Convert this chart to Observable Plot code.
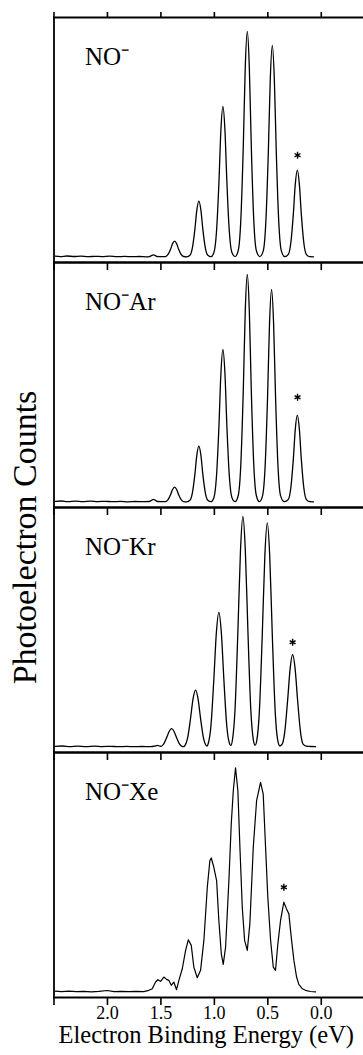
<!DOCTYPE html>
<html><head><meta charset="utf-8">
<script src="https://cdn.jsdelivr.net/npm/d3@7"></script>
<script src="https://cdn.jsdelivr.net/npm/@observablehq/plot@0.6"></script>
<style>html,body{margin:0;padding:0;background:#fff}</style>
</head><body><div id="chart"></div>
<script>
const panels = ["NO⁻", "NO⁻Ar", "NO⁻Kr", "NO⁻Xe"];
const tickValues = [2.5, 2.0, 1.5, 1.0, 0.5, 0.0];
const tickLabels = [2.0, 1.5, 1.0, 0.5, 0.0];
const xLabel = "Electron Binding Energy (eV)";
const yLabel = "Photoelectron Counts";

// [binding energy (eV), counts (arb. units)]
const specNO = [[2.49,0.8],[2.44,0.4],[2.38,1.0],[2.31,0.5],[2.25,0.9],[2.18,0.3],[2.12,0.7],[2.05,0.4],[1.98,0.8],[1.91,0.3],[1.84,0.6],[1.77,0.3],[1.70,0.5],[1.64,0.2],
[1.61,0.4],[1.59,1.3],[1.569,2.2],[1.55,1.3],[1.53,0.4],[1.47,0.3],
[1.456,0.5],[1.433,2.6],[1.409,8],[1.391,13.4],[1.372,16],[1.353,13.4],[1.335,8],[1.311,2.6],[1.288,0.5],[1.258,0.2],
[1.229,1.7],[1.206,9],[1.182,28],[1.164,47],[1.145,56],[1.126,47],[1.108,28],[1.084,9],[1.061,1.7],[1.032,0.3],
[1.004,4.5],[0.981,24],[0.957,75.5],[0.939,127],[0.920,151],[0.901,127],[0.883,75.5],[0.859,24],[0.836,4.5],[0.806,0.4],
[0.776,6.8],[0.753,36],[0.729,113],[0.711,190],[0.692,226],[0.673,190],[0.655,113],[0.631,36],[0.608,6.8],[0.575,0.4],
[0.542,6.4],[0.519,34],[0.495,106],[0.477,178],[0.458,212],[0.439,178],[0.421,106],[0.397,34],[0.374,6.4],[0.341,0.3],
[0.308,2.6],[0.285,14],[0.261,43.5],[0.243,73],[0.224,87],[0.205,73],[0.187,43.5],[0.163,14],[0.140,2.6],[0.11,0.4],[0.072,0.2]];

const specAr = [[2.49,0.6],[2.43,1.0],[2.37,0.4],[2.30,0.8],[2.23,0.3],[2.16,0.9],[2.09,0.4],[2.02,0.7],[1.95,0.3],[1.88,0.6],[1.81,0.2],[1.74,0.5],[1.67,0.3],
[1.61,0.5],[1.59,1.6],[1.569,2.7],[1.55,1.6],[1.53,0.5],[1.47,0.3],
[1.456,0.45],[1.433,2.4],[1.409,7.5],[1.391,12.6],[1.372,15],[1.353,12.6],[1.335,7.5],[1.311,2.4],[1.288,0.45],[1.258,0.2],
[1.229,1.7],[1.206,9],[1.182,28],[1.164,47],[1.145,56],[1.126,47],[1.108,28],[1.084,9],[1.061,1.7],[1.032,0.3],
[1.004,4.6],[0.981,24.5],[0.957,76.5],[0.939,128.5],[0.920,153],[0.901,128.5],[0.883,76.5],[0.859,24.5],[0.836,4.6],[0.806,0.4],
[0.776,6.8],[0.753,36.5],[0.729,114],[0.711,191.5],[0.692,228],[0.673,191.5],[0.655,114],[0.631,36.5],[0.608,6.8],[0.579,0.4],
[0.549,6.4],[0.526,34],[0.502,106.5],[0.484,179],[0.465,213],[0.446,179],[0.428,106.5],[0.404,34],[0.381,6.4],[0.345,0.3],
[0.308,2.6],[0.285,14],[0.261,43.5],[0.243,73],[0.224,87],[0.205,73],[0.187,43.5],[0.163,14],[0.140,2.6],[0.11,0.4],[0.072,0.2]];

const specKr = [[2.49,0.6],[2.42,1.0],[2.35,0.4],[2.28,0.8],[2.20,0.3],[2.12,0.9],[2.05,0.4],[1.97,0.7],[1.90,0.3],[1.82,0.6],[1.75,0.3],[1.68,0.5],[1.60,0.3],
[1.56,0.8],[1.534,1.7],[1.51,0.8],
[1.498,0.6],[1.475,2.8],[1.447,9.2],[1.423,15.6],[1.400,18.4],[1.377,15.6],[1.353,9.2],[1.325,2.8],[1.302,0.6],[1.288,0.4],
[1.274,1.7],[1.251,8.6],[1.223,28.5],[1.199,48.5],[1.176,57],[1.153,48.5],[1.129,28.5],[1.101,8.6],[1.078,1.7],[1.067,1.0],
[1.056,4],[1.033,20],[1.005,67.5],[0.981,115],[0.958,135],[0.935,115],[0.911,67.5],[0.883,20],[0.860,4],[0.846,1.5],
[0.831,7],[0.808,35],[0.780,115.5],[0.756,196],[0.733,231],[0.710,196],[0.686,115.5],[0.658,35],[0.635,7],[0.619,1.8],
[0.603,6.7],[0.580,33.7],[0.552,112],[0.528,191],[0.505,224.5],[0.482,191],[0.458,112],[0.430,33.7],[0.407,6.7],[0.387,1.0],
[0.366,2.8],[0.343,14],[0.315,46.4],[0.291,78.8],[0.268,92.7],[0.245,78.8],[0.221,46.4],[0.193,14],[0.170,2.8],[0.14,0.8],[0.10,0.5],[0.053,0.3]];

const specXe = [[2.49,0.8],[2.43,0.3],[2.36,0.9],[2.29,0.4],[2.22,0.7],[2.15,0.2],[2.08,0.6],[2.00,1.5],[1.94,0.4],[1.87,0.7],[1.80,0.3],[1.73,0.6],[1.66,0.4],
[1.613,1.7],[1.581,3.3],[1.550,10],[1.529,12.3],[1.503,10.7],[1.472,15],[1.447,12.7],[1.426,11.7],[1.403,6.7],[1.379,10],[1.354,2.3],[1.332,11.7],
[1.300,23.3],[1.269,41.7],[1.244,52.3],[1.216,46.7],[1.192,25],[1.160,14.3],[1.129,21.7],[1.098,51.7],[1.066,105],[1.042,131.7],[1.029,134.3],
[1.005,125],[0.979,111.7],[0.958,71.7],[0.935,38.3],[0.917,27.7],[0.895,45],[0.864,111.7],[0.842,168.3],[0.823,201.7],[0.802,224.7],
[0.780,201.7],[0.761,145],[0.739,85],[0.717,51.7],[0.692,41.7],[0.668,68.3],[0.636,145],[0.605,191.7],[0.568,210],[0.543,198.3],
[0.521,145],[0.500,95],[0.474,51.7],[0.449,25],[0.428,21.7],[0.406,48.3],[0.381,71.7],[0.350,90],[0.325,83.3],[0.303,78.3],
[0.281,55],[0.256,31.7],[0.231,15],[0.210,7.7],[0.178,3.3],[0.147,1.7],[0.10,0.5],[0.053,0.2]];

// asterisk markers: [panel index, eV, counts]
const stars = [[0,0.222,102],[1,0.222,105],[2,0.268,105],[3,0.350,105]];

const rows = [];
[specNO, specAr, specKr, specXe].forEach((s, i) => s.forEach(([e, c]) => rows.push({panel: panels[i], e, c})));
const starRows = stars.map(([i, e, c]) => ({panel: panels[i], e, c}));

const FONT = "'Liberation Serif', 'Times New Roman', serif";

const chart = Plot.plot({
  width: 363,
  height: 1055,
  marginLeft: 53.5,
  marginRight: 0,
  marginTop: 16,
  marginBottom: 57,
  style: {fontFamily: FONT, background: "#fff", color: "#000"},
  x: {domain: [2.5, -0.395]},
  y: {domain: [-5.5, 240], axis: null},
  fy: {domain: panels, padding: 0, axis: null},
  marks: [
    Plot.line(rows.filter(d => d.panel !== "NO⁻Xe"), {x: "e", y: "c", fy: "panel", curve: "monotone-x", stroke: "#000", strokeWidth: 1.3}),
    Plot.line(rows.filter(d => d.panel === "NO⁻Xe"), {x: "e", y: "c", fy: "panel", curve: "linear", stroke: "#000", strokeWidth: 1.2}),
    Plot.dot(starRows, {x: "e", y: "c", fy: "panel", symbol: "asterisk", r: 3.2, stroke: "#000", strokeWidth: 1.4}),
    Plot.frame({anchor: "left", strokeWidth: 1.8}),
    Plot.frame({anchor: "bottom", strokeWidth: 1.8}),
    Plot.frame({anchor: "top", strokeWidth: 1.8}),
    Plot.axisX({anchor: "bottom", facetAnchor: null, ticks: tickValues, tickSize: 8, strokeWidth: 1.6, fill: "none", label: null}),
    Plot.axisX({anchor: "top", ticks: tickValues, tickSize: 6, strokeWidth: 1.6, fill: "none", label: null}),
    Plot.axisX({anchor: "bottom", ticks: tickLabels, tickSize: 0, tickPadding: 9, tickFormat: ".1f", fontSize: 18, fontFamily: FONT, label: null}),
    Plot.text(panels, {fy: d => d, text: d => d, frameAnchor: "top-left", lineAnchor: "bottom", dx: 31, dy: 47, fontSize: 25, fontFamily: FONT}),
    Plot.text([xLabel], {fy: () => "NO⁻Xe", text: d => d, frameAnchor: "bottom-left", lineAnchor: "bottom", textAnchor: "start", dx: 4.5, dy: 45, fontSize: 24.5, fontFamily: FONT}),
    Plot.text([yLabel], {fy: () => "NO⁻Ar", text: d => d, frameAnchor: "bottom-left", lineAnchor: "bottom", textAnchor: "middle", rotate: -90, dx: -18, dy: 30, fontSize: 34, fontFamily: FONT})
  ]
});
document.getElementById("chart").appendChild(chart);
</script>
</body></html>
